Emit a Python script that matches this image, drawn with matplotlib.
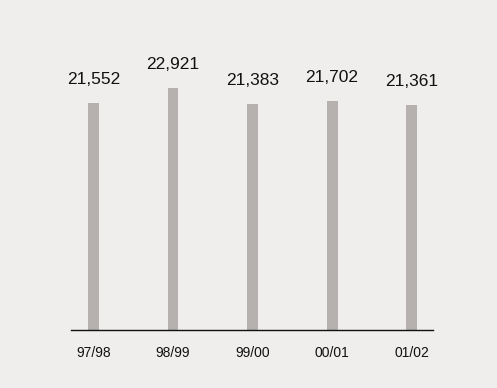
import matplotlib.pyplot as plt

# Seasons and totals
seasons = ['97/98', '98/99', '99/00', '00/01', '01/02']
totals = [21552, 22921, 21383, 21702, 21361]

bg = '#efeeec'
bar_color = '#b6b0af'

plt.rcParams['font.family'] = ['Liberation Sans', 'DejaVu Sans']

fig = plt.figure(figsize=(4.97, 3.88), dpi=100, facecolor=bg)
# axes spans pixel x 71..433, y 30..330 (baseline)
ax = fig.add_axes([71 / 497, 58 / 388, 362 / 497, 300 / 388])
ax.set_facecolor(bg)

x = range(len(seasons))
bars = ax.bar(x, totals, width=0.138, color=bar_color)

ax.set_xlim(-0.283, 4.27)
ax.set_ylim(0, 300 * 94.8)

for rect, val in zip(bars, totals):
    ax.annotate(f'{val:,}', (rect.get_x() + rect.get_width() / 2, val),
                xytext=(0, 11.5), textcoords='offset points',
                ha='center', va='bottom', fontsize=12.5, color='#111111')

ax.set_xticks(list(x))
ax.set_xticklabels(seasons, fontsize=10, color='#111111')
ax.tick_params(axis='x', length=0, pad=11.5)
ax.set_yticks([])

for side in ['top', 'right', 'left']:
    ax.spines[side].set_visible(False)
ax.spines['bottom'].set_linewidth(1.0)
ax.spines['bottom'].set_color('#111111')

fig.savefig('out.png', dpi=100, facecolor=bg)
